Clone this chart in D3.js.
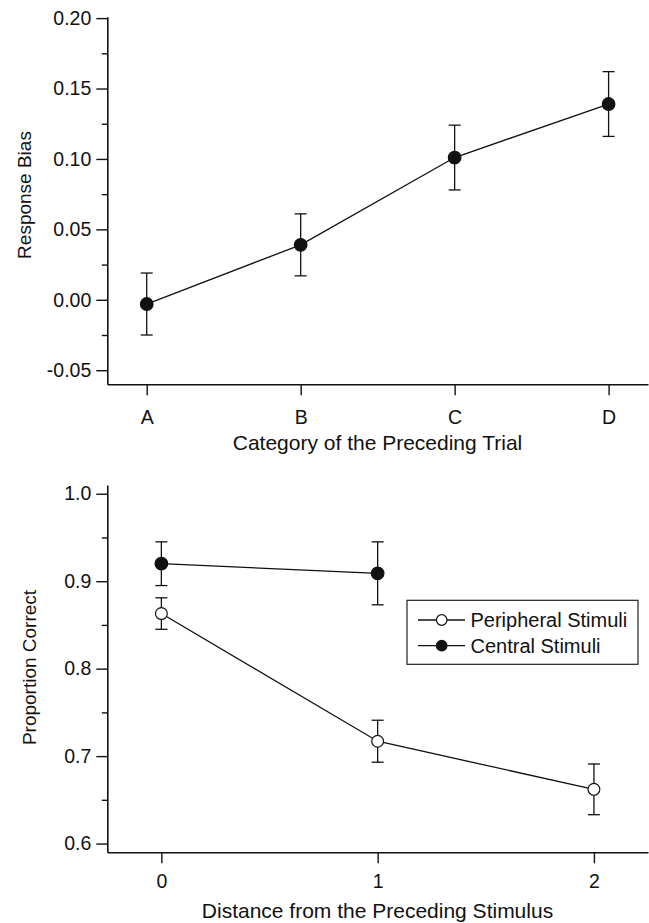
<!DOCTYPE html>
<html>
<head>
<meta charset="utf-8">
<script src="https://d3js.org/d3.v7.min.js"></script>
<style>
  body { margin: 0; background: #fff; }
  text { font-family: "Liberation Sans", Arial, sans-serif; fill: #111; }
</style>
</head>
<body>
<div id="dataviz"></div>
<script>
// top panel: response bias by preceding category
const biasCategories = ["A", "B", "C", "D"];
const biasValues = [-0.003, 0.039, 0.101, 0.139];
const biasErrors = [0.022, 0.022, 0.023, 0.023];
const biasTicks = [-0.05, 0.00, 0.05, 0.10, 0.15, 0.20];
const biasMinorTicks = [-0.025, 0.025, 0.075, 0.125, 0.175];

// bottom panel: proportion correct by distance
const distances = ["0", "1", "2"];
const peripheralValues = [0.863, 0.717, 0.662];
const peripheralErrors = [0.018, 0.024, 0.029];
const centralDistances = ["0", "1"];
const centralValues = [0.920, 0.909];
const centralErrors = [0.025, 0.036];
const propTicks = [0.6, 0.7, 0.8, 0.9, 1.0];
const propMinorTicks = [0.65, 0.75, 0.85, 0.95];

const seriesNames = ["Peripheral Stimuli", "Central Stimuli"];

const width = 649, height = 923;
const tickFont = 19.5;
const xTitleFont = 21;
const yTitleFont = 19;
const legendFont = 20;
const ink = "#111";

const svg = d3.select("#dataviz")
    .append("svg")
    .attr("width", width)
    .attr("height", height);

svg.append("rect").attr("width", width).attr("height", height).attr("fill", "#fff");

function styleAxis(g) {
    g.selectAll("path").attr("stroke", ink).attr("stroke-width", 1.6);
    g.selectAll("line").attr("stroke", ink).attr("stroke-width", 1.4);
    g.selectAll("text").attr("font-size", tickFont).attr("fill", ink);
}

function drawPanel(opts) {
    const x = d3.scalePoint()
        .domain(opts.categories)
        .range([107.3, 648])
        .padding(opts.xPadding);

    const y = d3.scaleLinear()
        .domain(opts.yDomain)
        .range([opts.bottom, opts.top]);

    // x axis
    svg.append("g")
        .attr("transform", `translate(0,${opts.bottom})`)
        .call(d3.axisBottom(x).tickSizeOuter(0).tickSizeInner(11).tickPadding(opts.xTickPad))
        .call(styleAxis);

    // y axis major + minor
    svg.append("g")
        .attr("transform", "translate(107.3,0)")
        .call(d3.axisLeft(y).tickValues(opts.ticks).tickFormat(opts.format)
            .tickSizeOuter(0).tickSizeInner(11).tickPadding(5))
        .call(styleAxis);

    svg.append("g")
        .attr("transform", "translate(107.3,0)")
        .call(d3.axisLeft(y).tickValues(opts.minor).tickFormat("")
            .tickSizeOuter(0).tickSizeInner(5.5))
        .call(styleAxis)
        .select("path").remove();

    // titles
    svg.append("text")
        .attr("x", 377.5)
        .attr("y", opts.bottom + 65.5)
        .attr("text-anchor", "middle")
        .attr("font-size", xTitleFont)
        .text(opts.xTitle);

    svg.append("text")
        .attr("transform", `translate(${opts.yTitleX},${opts.yTitleY}) rotate(-90)`)
        .attr("text-anchor", "middle")
        .attr("font-size", yTitleFont)
        .text(opts.yTitle);

    return {x, y};
}

function drawSeries(x, y, cats, values, errors, filled) {
    const pts = cats.map((c, i) => ({c: c, v: values[i], e: errors[i]}));

    svg.append("path")
        .datum(pts)
        .attr("fill", "none")
        .attr("stroke", ink)
        .attr("stroke-width", 1.3)
        .attr("d", d3.line().x(d => x(d.c)).y(d => y(d.v)));

    const bars = svg.append("g")
        .attr("stroke", ink)
        .attr("stroke-width", 1.3);

    bars.selectAll(".stem")
        .data(pts)
        .join("line")
        .attr("class", "stem")
        .attr("x1", d => x(d.c)).attr("x2", d => x(d.c))
        .attr("y1", d => y(d.v + d.e)).attr("y2", d => y(d.v - d.e));

    bars.selectAll(".capTop")
        .data(pts)
        .join("line")
        .attr("class", "capTop")
        .attr("x1", d => x(d.c) - 6).attr("x2", d => x(d.c) + 6)
        .attr("y1", d => y(d.v + d.e)).attr("y2", d => y(d.v + d.e));

    bars.selectAll(".capBottom")
        .data(pts)
        .join("line")
        .attr("class", "capBottom")
        .attr("x1", d => x(d.c) - 6).attr("x2", d => x(d.c) + 6)
        .attr("y1", d => y(d.v - d.e)).attr("y2", d => y(d.v - d.e));

    svg.append("g")
        .selectAll("circle")
        .data(pts)
        .join("circle")
        .attr("cx", d => x(d.c))
        .attr("cy", d => y(d.v))
        .attr("r", filled ? 6.3 : 5.9)
        .attr("fill", filled ? ink : "#fff")
        .attr("stroke", ink)
        .attr("stroke-width", 1.2);
}

// ---- top panel
const biasPanel = drawPanel({
    categories: biasCategories,
    xPadding: 0.256,
    yDomain: [-0.06, 0.201],
    top: 16.7,
    bottom: 384.3,
    ticks: biasTicks,
    minor: biasMinorTicks,
    format: d => d.toFixed(2),
    xTickPad: 15,
    xTitle: "Category of the Preceding Trial",
    yTitle: "Response Bias",
    yTitleX: 30.5,
    yTitleY: 195
});
drawSeries(biasPanel.x, biasPanel.y, biasCategories, biasValues, biasErrors, true);

// ---- bottom panel
const propPanel = drawPanel({
    categories: distances,
    xPadding: 0.25,
    yDomain: [0.59, 1.01],
    top: 485,
    bottom: 852.3,
    ticks: propTicks,
    minor: propMinorTicks,
    format: d => d.toFixed(1),
    xTickPad: 11,
    xTitle: "Distance from the Preceding Stimulus",
    yTitle: "Proportion Correct",
    yTitleX: 35.5,
    yTitleY: 667.5
});
drawSeries(propPanel.x, propPanel.y, distances, peripheralValues, peripheralErrors, false);
drawSeries(propPanel.x, propPanel.y, centralDistances, centralValues, centralErrors, true);

// legend
const legend = svg.append("g").attr("transform", "translate(407,600.3)");
legend.append("rect")
    .attr("width", 231)
    .attr("height", 64)
    .attr("fill", "#fff")
    .attr("stroke", "#222")
    .attr("stroke-width", 1.2);

const rows = legend.selectAll(".row")
    .data(seriesNames)
    .join("g")
    .attr("class", "row")
    .attr("transform", (d, i) => `translate(0,${19.7 + i * 25.7})`);

rows.append("line")
    .attr("x1", 11).attr("x2", 58)
    .attr("stroke", ink).attr("stroke-width", 1.3);

rows.append("circle")
    .attr("cx", 34.7)
    .attr("r", 5.3)
    .attr("fill", (d, i) => i === 0 ? "#fff" : ink)
    .attr("stroke", ink)
    .attr("stroke-width", 1.2);

rows.append("text")
    .attr("x", 63.5)
    .attr("dy", "0.35em")
    .attr("font-size", legendFont)
    .text(d => d);
</script>
</body>
</html>
